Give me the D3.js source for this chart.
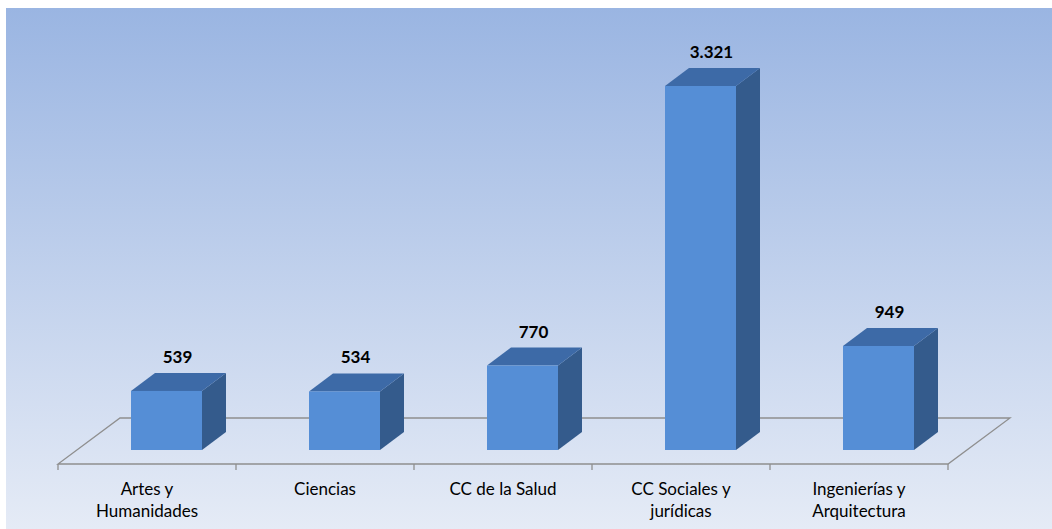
<!DOCTYPE html>
<html>
<head>
<meta charset="utf-8">
<script src="https://cdnjs.cloudflare.com/ajax/libs/d3/7.8.5/d3.min.js"></script>
<style>
  body { margin: 0; background: #fff; }
  svg { display: block; }
</style>
</head>
<body>
<div id="chart"></div>
<script>
// data
var categories = ["Artes y\nHumanidades", "Ciencias", "CC de la Salud", "CC Sociales y\njurídicas", "Ingenierías y\nArquitectura"];
var values = [539, 534, 770, 3321, 949];
var valueLabels = ["539", "534", "770", "3.321", "949"];

var width = 1052, height = 529;
var depthX = 24, depthY = 18;

var svg = d3.select("#chart").append("svg")
    .attr("width", width)
    .attr("height", height);

var defs = svg.append("defs");
var grad = defs.append("linearGradient").attr("id", "bg")
    .attr("x1", 0).attr("y1", 0).attr("x2", 0).attr("y2", 1);
grad.append("stop").attr("offset", "0%").attr("stop-color", "#9ab5e2");
grad.append("stop").attr("offset", "100%").attr("stop-color", "#e5ebf6");

svg.append("rect")
    .attr("x", 6).attr("y", 8)
    .attr("width", width - 6).attr("height", height - 8)
    .attr("fill", "url(#bg)");

var x = d3.scaleBand().domain(categories).range([58, 948]);
var y = d3.scaleLinear().domain([0, 3321]).range([450, 86]);

// floor
var floorFront = 464, floorBack = 418, floorShift = 62;
var floor = svg.append("g").attr("fill", "none").attr("stroke", "#8f8f8f").attr("stroke-width", 1.3);
floor.append("path")
    .attr("d", "M" + x.range()[0] + "," + floorFront +
               "L" + x.range()[1] + "," + floorFront +
               "L" + (x.range()[1] + floorShift) + "," + floorBack +
               "L" + (x.range()[0] + floorShift) + "," + floorBack + "Z");

var ticks = categories.map(function(c){ return x(c); }).concat([x.range()[1]]);
floor.selectAll("line.tick").data(ticks).enter().append("line")
    .attr("x1", function(d){ return d; }).attr("x2", function(d){ return d; })
    .attr("y1", floorFront).attr("y2", floorFront + 6);

// bars
var barW = 71;
var bars = svg.selectAll("g.bar").data(values).enter().append("g").attr("class", "bar");

function frontX(i) { return x(categories[i]) + x.bandwidth() / 2 - 16; }

bars.append("path")
    .attr("fill", "#345b8c")
    .attr("d", function(d, i){
      var x0 = frontX(i) + barW, yt = y(d), yb = y(0);
      return "M" + x0 + "," + yt + "L" + (x0 + depthX) + "," + (yt - depthY) +
             "L" + (x0 + depthX) + "," + (yb - depthY) + "L" + x0 + "," + yb + "Z";
    });

bars.append("path")
    .attr("fill", "#3d6aa7")
    .attr("d", function(d, i){
      var x0 = frontX(i), yt = y(d);
      return "M" + x0 + "," + yt + "L" + (x0 + depthX) + "," + (yt - depthY) +
             "L" + (x0 + barW + depthX) + "," + (yt - depthY) + "L" + (x0 + barW) + "," + yt + "Z";
    });

bars.append("rect")
    .attr("fill", "#558ed6")
    .attr("x", function(d, i){ return frontX(i); })
    .attr("y", function(d){ return y(d); })
    .attr("width", barW)
    .attr("height", function(d){ return y(0) - y(d); });

bars.append("text")
    .attr("x", function(d, i){ return frontX(i) + barW / 2 + depthX / 2 - 1; })
    .attr("y", function(d){ return y(d) - depthY - 10; })
    .attr("text-anchor", "middle")
    .attr("font-family", "Lato, 'Open Sans', sans-serif")
    .attr("font-weight", "bold")
    .attr("font-size", 17)
    .attr("fill", "#000")
    .text(function(d, i){ return valueLabels[i]; });

// category labels
var labels = svg.selectAll("text.cat").data(categories).enter().append("text")
    .attr("class", "cat")
    .attr("text-anchor", "middle")
    .attr("font-family", "Lato, 'Open Sans', sans-serif")
    .attr("font-size", 17)
    .attr("fill", "#000");

labels.selectAll("tspan").data(function(d){ return d.split("\n"); }).enter().append("tspan")
    .attr("x", function(){ var c = d3.select(this.parentNode).datum(); return x(c) + x.bandwidth() / 2; })
    .attr("y", function(d, i){ return 495 + i * 22; })
    .text(function(d){ return d; });
</script>
</body>
</html>
